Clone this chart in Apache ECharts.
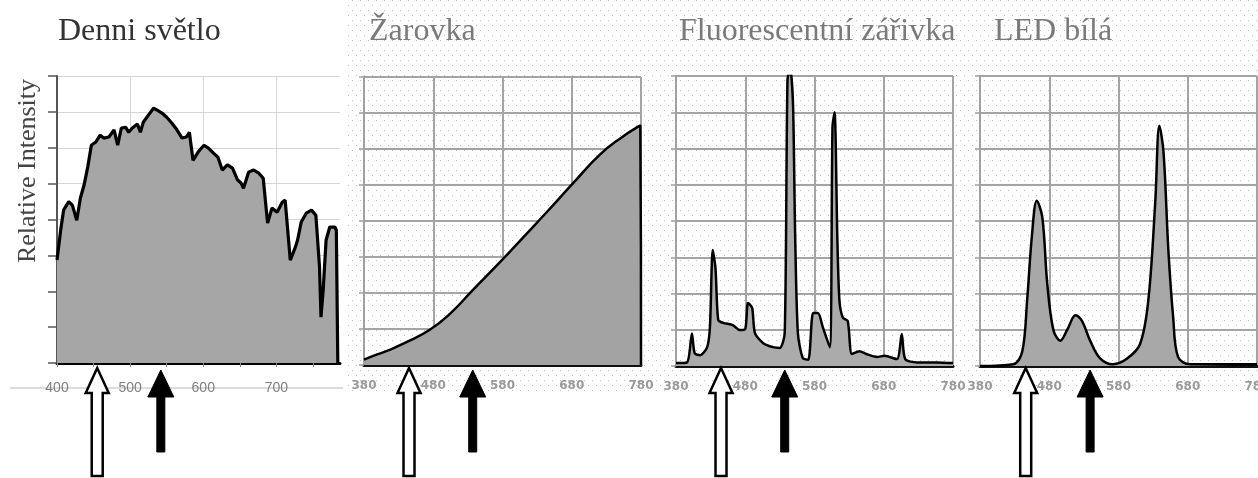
<!DOCTYPE html>
<html><head><meta charset="utf-8">
<script src="https://cdn.jsdelivr.net/npm/echarts@6/dist/echarts.min.js"></script>
<style>html,body{margin:0;padding:0;background:#fff}#c{width:1258px;height:478px}</style>
</head><body><div id="c"></div>
<script>
// ---- titles / labels ----
const panelTitles = ['Denni světlo', 'Žarovka', 'Fluorescentní zářivka', 'LED bílá'];
const yAxisTitle = 'Relative Intensity';

// ---- Panel 1: daylight (nm, relative intensity 0..8) ----
const dayNm = [400,405,409,416,421,427,432,437,442,447,453,459,464,471,478,483,488,494,498,503,510,514,518,525,532,537,544,550,557,564,571,577,581,586,593,601,607,614,620,626,633,640,647,652,655,662,669,676,682,688,694,701,708,712,719,726,729,734,741,748,754,759,761,764,768,773,780,782,784];
const dayVal = [2.87,3.7,4.26,4.5,4.4,3.98,4.6,4.96,5.46,6.07,6.16,6.35,6.27,6.3,6.5,6.07,6.55,6.57,6.43,6.55,6.66,6.43,6.71,6.91,7.1,7.05,6.96,6.85,6.69,6.5,6.27,6.3,6.43,5.65,5.88,6.07,5.99,5.85,5.74,5.38,5.52,5.43,5.1,5.01,4.87,5.32,5.38,5.29,5.15,3.9,4.32,4.2,4.48,4.54,2.87,3.23,3.43,3.93,4.18,4.26,4.12,2.67,1.28,2.03,3.43,3.79,3.79,3.7,0];

// ---- Panel 2: incandescent ----
const incNm = [380,400,417,442,475,504,537,576,615,644,682,721,754,774,779,780];
const incVal = [0.15,0.3,0.42,0.64,0.98,1.42,2.08,2.85,3.65,4.25,5.05,5.85,6.35,6.6,6.65,0];

// ---- Panel 3: fluorescent ----
const fluNm = [380,396,403,407,415,425,429,433,437,441,448,462,472,480,484,490,494,506,520,530,537,541,545,549,552,556,563,571,578,585,592,602,606,609,613,616,621,628,634,645,655,670,681,699,706,711,728,757,780];
const fluVal = [0.08,0.1,0.9,0.35,0.3,0.52,1.07,3.2,2.7,1.27,1.19,1.13,0.99,1.02,1.74,1.6,0.91,0.63,0.52,0.5,0.91,7.9,8.2,7.2,3.67,0.91,0.22,0.17,1.46,1.46,1.07,0.52,6.6,7.0,3.5,1.8,1.33,1.24,0.33,0.41,0.33,0.25,0.28,0.19,0.88,0.19,0.1,0.1,0.08];

// ---- Panel 4: white LED ----
const ledNm = [380,428,441,448,455,462,470,477,486,496,506,518,527,539,553,572,592,611,623,633,639,645,652,659,666,683,780];
const ledVal = [0,0.05,0.4,1.8,3.6,4.56,4.1,2.3,0.99,0.7,1.0,1.4,1.25,0.7,0.22,0.05,0.2,0.6,1.8,4.5,6.63,5.9,3.2,1.33,0.25,0.05,0.05];

// ---- x ticks ----
const dayTicksMin = 400, dayTicksMax = 787;
const specTicks = [380, 480, 580, 680, 780];

// ---- arrow positions (nm) per panel ----
const arrowOpenNm = [455, 445, 445, 446];
const arrowFilledNm = [542, 537, 537, 539];

const chart = echarts.init(document.getElementById('c'), null, {renderer: 'canvas'});
const zip = (a, b) => a.map((x, i) => [x, b[i]]);

const grids = [
  {left: 57, top: 76, width: 283, height: 287},
  {left: 364, top: 77, width: 277, height: 288},
  {left: 676, top: 76, width: 277, height: 290},
  {left: 980, top: 76, width: 277, height: 290}
].map(g => Object.assign(g, {containLabel: false, outerBoundsMode: 'none'}));
const titlePos = [{left: 58, top: 16, color: '#333'}, {left: 369, top: 16, color: '#7a7a7a'}, {left: 679, top: 16, color: '#7a7a7a'}, {left: 994, top: 16, color: '#7a7a7a'}];

const xAxes = [
  { gridIndex: 0, type: 'value', min: dayTicksMin, max: dayTicksMax, interval: 50,
    axisLine: {lineStyle: {color: '#000', width: 3}},
    axisTick: {show: true, length: 4, lineStyle: {color: '#888'}},
    axisLabel: {margin: 18, color: '#808080', fontSize: 14, fontFamily: 'Liberation Sans', showMaxLabel: false,
      formatter: v => (v % 100 === 0 ? String(v) : '')},
    splitLine: {show: false} },
  { gridIndex: 0, type: 'value', min: dayTicksMin, max: dayTicksMax, interval: 100,
    axisLine: {show: false}, axisTick: {show: false}, axisLabel: {show: false},
    splitLine: {show: true, showMaxLine: false, lineStyle: {color: '#d6d6d6', width: 1}} }
];
for (let g = 1; g < 4; g++) {
  xAxes.push({ gridIndex: g, type: 'value', min: specTicks[0], max: specTicks[specTicks.length - 1], interval: 100,
    axisLine: {lineStyle: {color: '#111', width: 3}},
    axisTick: {show: false},
    axisLabel: {margin: 15, color: '#9a9a9a', fontSize: 12, fontWeight: 'bold', fontFamily: 'DejaVu Sans',
      showMinLabel: true, showMaxLabel: true},
    splitLine: {show: true, lineStyle: {color: '#a4a4a4', width: 2}} });
}
const yAxes = [
  { gridIndex: 0, type: 'value', min: 0, max: 8, interval: 1,
    name: yAxisTitle, nameLocation: 'middle', nameGap: 16, nameRotate: 90,
    nameTextStyle: {fontFamily: 'Liberation Serif', fontSize: 26, color: '#444', padding: [0, 0, 0, 97]},
    axisLine: {show: true, lineStyle: {color: '#555', width: 2}},
    axisTick: {show: true, length: 9, lineStyle: {color: '#555', width: 1.5}},
    axisLabel: {show: false},
    splitLine: {show: true, lineStyle: {color: '#d6d6d6', width: 1}} }
];
for (let g = 1; g < 4; g++) {
  yAxes.push({ gridIndex: g, type: 'value', min: 0, max: 8, interval: 1,
    axisLine: {show: true, lineStyle: {color: '#a0a0a0', width: 2}},
    axisTick: {show: true, length: 5, lineStyle: {color: '#a0a0a0', width: 1.5}},
    axisLabel: {show: false},
    splitLine: {show: true, lineStyle: {color: '#a4a4a4', width: 2}} });
}

const seriesDefs = [
  {x: 0, y: 0, data: zip(dayNm, dayVal), smooth: false, lw: 3.2, fill: '#a6a6a6'},
  {x: 2, y: 1, data: zip(incNm, incVal), smooth: 0.5, lw: 2.5, fill: '#a3a3a3'},
  {x: 3, y: 2, data: zip(fluNm, fluVal), smooth: 0.25, lw: 2.5, fill: '#ababab'},
  {x: 4, y: 3, data: zip(ledNm, ledVal), smooth: 0.35, lw: 2.5, fill: '#a8a8a8'}
];

chart.setOption({
  animation: false,
  backgroundColor: '#fff',
  title: panelTitles.map((t, i) => ({
    text: t, left: titlePos[i].left, top: titlePos[i].top, padding: 0,
    textStyle: {fontFamily: 'Liberation Serif', fontWeight: 'normal', fontSize: 32, color: titlePos[i].color}
  })),
  grid: grids,
  xAxis: xAxes,
  yAxis: yAxes,
  series: seriesDefs.map(s => ({
    type: 'line', xAxisIndex: s.x, yAxisIndex: s.y, data: s.data,
    smooth: s.smooth, showSymbol: false, clip: true,
    lineStyle: {color: '#000', width: s.lw},
    areaStyle: {color: s.fill, opacity: 1}
  }))
});

// halftone-like background pattern for panels 2-4
const pc = document.createElement('canvas');
pc.width = 8; pc.height = 10;
const pctx = pc.getContext('2d');
pctx.fillStyle = '#bdbdbd';
pctx.fillRect(0, 0, 1, 1);
pctx.fillRect(4, 5, 1, 1);

const graphics = [
  {type: 'rect', z: -5, silent: true, shape: {x: 345, y: 0, width: 913, height: 395},
   style: {fill: {image: pc, repeat: 'repeat'}}},
  {type: 'line', silent: true, shape: {x1: 10, y1: 388, x2: 343, y2: 388}, style: {stroke: '#b8b8b8', lineWidth: 1}}
];
for (let i = 0; i < 4; i++) {
  const xi = i === 0 ? 0 : i + 1;
  const xo = chart.convertToPixel({xAxisIndex: xi}, arrowOpenNm[i]);
  const xf = chart.convertToPixel({xAxisIndex: xi}, arrowFilledNm[i]);
  graphics.push({type: 'polygon', silent: true, z: 10,
    shape: {points: [[xo, 368], [xo + 11.5, 393], [xo + 5.5, 393], [xo + 5.5, 476], [xo - 5.5, 476], [xo - 5.5, 393], [xo - 11.5, 393]]},
    style: {fill: '#fff', stroke: '#000', lineWidth: 2.5, lineJoin: 'miter'}});
  graphics.push({type: 'polygon', silent: true, z: 10,
    shape: {points: [[xf, 370], [xf + 13, 397], [xf + 4, 397], [xf + 4, 452], [xf - 4, 452], [xf - 4, 397], [xf - 13, 397]]},
    style: {fill: '#000', stroke: '#000', lineWidth: 1}});
}
chart.setOption({graphic: graphics});
</script>
</body></html>
